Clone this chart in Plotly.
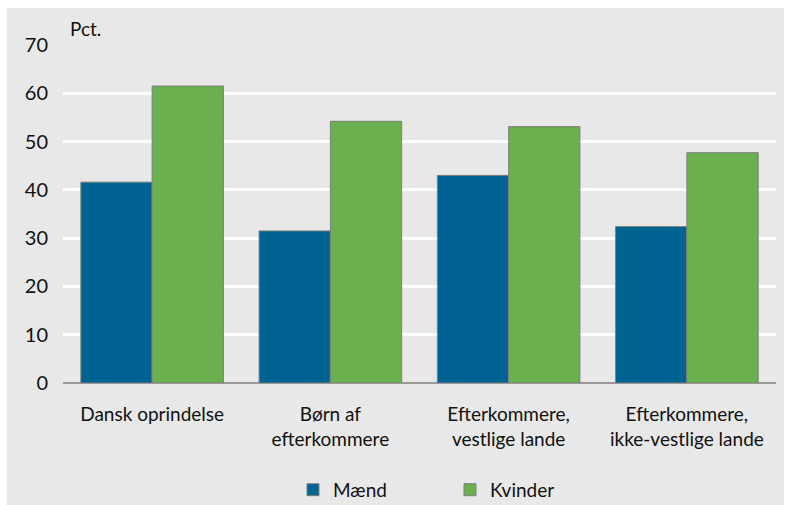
import plotly.graph_objects as go

categories = ["Dansk oprindelse", "Børn af<br>efterkommere", "Efterkommere,<br>vestlige lande", "Efterkommere,<br>ikke-vestlige lande"]
maend = [41.6, 31.5, 43.0, 32.4]
kvinder = [61.5, 54.2, 53.1, 47.7]
series_names = ["Mænd", "Kvinder"]
colors = ["#006391", "#6ab04e"]

fig = go.Figure()
for name, vals, col in zip(series_names, [maend, kvinder], colors):
    fig.add_trace(go.Bar(x=categories, y=vals, name=name, marker=dict(color=col, line=dict(color="#7f7f7f", width=1))))

FONT = "Lato, Open Sans, sans-serif"
fig.update_layout(
    width=785, height=505,
    margin=dict(l=63, r=9, t=45, b=122),
    paper_bgcolor="white",
    plot_bgcolor="#dcdcdc",
    barmode="group", bargap=0.2, bargroupgap=0,
    font=dict(family=FONT, size=19, color="#111111"),
    showlegend=True,
    legend=dict(orientation="h", x=0.3226, xanchor="left", yref="container", y=0.03, yanchor="middle",
                font=dict(size=19), entrywidth=112, bgcolor="rgba(0,0,0,0)"),
    shapes=[dict(type="rect", xref="paper", yref="paper", x0=-0.0785, x1=1.0112, y0=-0.362, y1=1.1095,
                 fillcolor="#e8e8e8", line=dict(width=0), layer="below")],
    annotations=[dict(text="Pct.", xref="paper", yref="paper", x=0.007, y=1.01, xanchor="left", yanchor="bottom",
                      showarrow=False, font=dict(size=19))],
)
fig.update_yaxes(range=[0, 70], dtick=10, gridcolor="white", gridwidth=2.5, automargin=False,
                 zeroline=True, zerolinecolor="#999999", zerolinewidth=2,
                 ticks="", ticklabelstandoff=14, tickfont=dict(size=20))
fig.update_xaxes(ticks="", ticklabelstandoff=18, showgrid=False, automargin=False)

fig.write_html("out.html", config={"displayModeBar": False})
with open("out.html", encoding="utf-8") as f:
    html = f.read()
html = html.replace("<head>", "<head><style>html,body{margin:0;padding:0;}</style>", 1)
with open("out.html", "w", encoding="utf-8") as f:
    f.write(html)
